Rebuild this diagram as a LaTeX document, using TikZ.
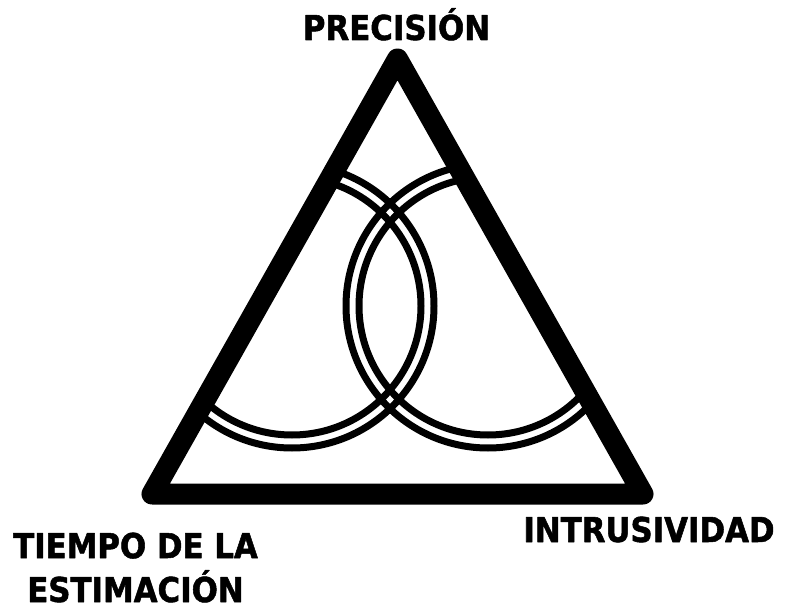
\documentclass[tikz,border=0pt]{standalone}
\usepackage{fontspec}
\setmainfont{DejaVu Sans}[FakeStretch=0.9, BoldFeatures={FakeBold=1.5}]

\tikzset{
  vertexlabel/.style={anchor=base, align=center, inner sep=0pt,
    font=\bfseries\fontsize{19.5}{25}\selectfont},
  ring/.style={line width=0.14cm}
}

\begin{document}
\begin{tikzpicture}[x=0.02cm, y=-0.02cm, line join=round]
\useasboundingbox (0,0) rectangle (785,608);

% Corners of the triangle
\coordinate (top) at (397.5,59);
\coordinate (left) at (152,494);
\coordinate (right) at (643,494);

% Drawing the two rings, cut off by the triangle
\begin{scope}
\clip (top) -- (left) -- (right) -- cycle;
\draw[ring] (292,306) circle (129) (292,306) circle (142);
\draw[ring] (488,306) circle (129) (488,306) circle (142);
\end{scope}

% Drawing triangle
\draw[line width=0.42cm] (top) -- (left) -- (right) -- cycle;

% Labels at the corners
\node[vertexlabel] (precision) at (396.5,40) {PRECISIÓN};
\node[vertexlabel] (intrusividad) at (649,542) {INTRUSIVIDAD};
\node[vertexlabel] (tiempo) at (135.5,602) {TIEMPO DE LA\\ESTIMACIÓN};
\end{tikzpicture}
\end{document}
